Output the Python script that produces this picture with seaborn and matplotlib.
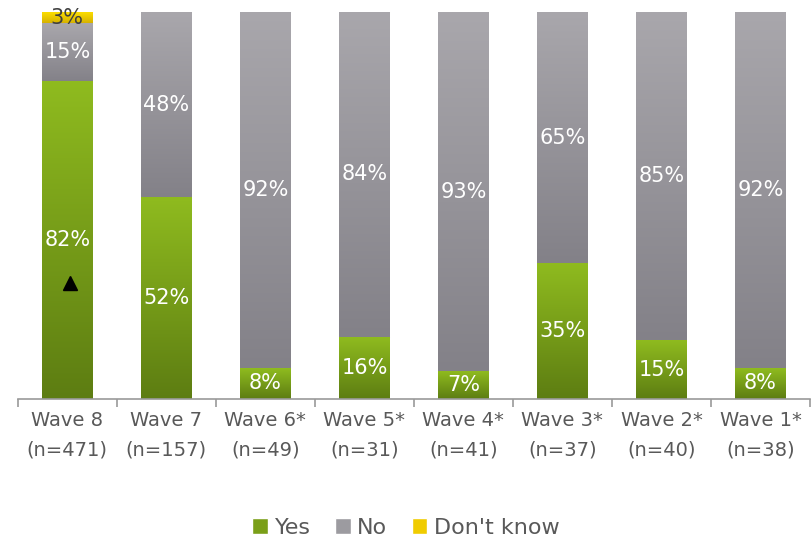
import numpy as np
import pandas as pd
import matplotlib
matplotlib.use("Agg")
import matplotlib.pyplot as plt
import matplotlib.colors as mcolors
from matplotlib.patches import Patch
import seaborn as sns

waves = ["Wave 8", "Wave 7", "Wave 6*", "Wave 5*", "Wave 4*", "Wave 3*", "Wave 2*", "Wave 1*"]
sizes = ["(n=471)", "(n=157)", "(n=49)", "(n=31)", "(n=41)", "(n=37)", "(n=40)", "(n=38)"]
yes = [82, 52, 8, 16, 7, 35, 15, 8]
no = [15, 48, 92, 84, 93, 65, 85, 92]
dont_know = [3, 0, 0, 0, 0, 0, 0, 0]

sns.set_style("white")
plt.rcParams["font.family"] = ["DejaVu Sans"]

df = pd.DataFrame({"wave": waves, "yes": yes, "no": no, "dk": dont_know})
df["cum_yes"] = df["yes"]
df["cum_no"] = df["yes"] + df["no"]
df["cum_dk"] = df["cum_no"] + df["dk"]

fig = plt.figure(figsize=(8.12, 5.39), dpi=100)
ax = fig.add_axes([0.022, 0.26, 0.9755, 0.718])

width = 0.51
layers = [("cum_dk", ("#ffe100", "#d6b200")),
          ("cum_no", ("#a9a7ac", "#838188")),
          ("cum_yes", ("#8fbb1f", "#5d7d12"))]
lower = {"cum_dk": "cum_no", "cum_no": "cum_yes", "cum_yes": None}

for col, (ctop, cbot) in layers:
    n0 = len(ax.patches)
    sns.barplot(data=df, x="wave", y=col, color=ctop, width=width, ax=ax,
                saturation=1, order=waves)
    cmap = mcolors.LinearSegmentedColormap.from_list("g", [cbot, ctop])
    grad = np.linspace(0, 1, 256).reshape(-1, 1)
    for i, p in enumerate(ax.patches[n0:]):
        x0 = p.get_x()
        x1 = x0 + p.get_width()
        ytop = df[col].iloc[i]
        ybot = df[lower[col]].iloc[i] if lower[col] else 0
        if ytop - ybot <= 0:
            continue
        ax.imshow(grad, cmap=cmap, origin="lower", aspect="auto",
                  extent=(x0, x1, ybot, ytop), zorder=p.get_zorder() + 0.1)

ax.set_xlim(-0.5, 7.5)
ax.set_ylim(0, 100)
ax.set_ylabel("")
ax.set_xlabel("")
ax.set_yticks([])

# value labels
fs = 15
for i in range(len(waves)):
    if yes[i] > 0:
        ax.text(i, yes[i] / 2, f"{yes[i]}%", ha="center", va="center",
                color="white", fontsize=fs, zorder=10)
    if no[i] > 0:
        ax.text(i, yes[i] + no[i] / 2, f"{no[i]}%", ha="center", va="center",
                color="white", fontsize=fs, zorder=10)
    if dont_know[i] > 0:
        ax.text(i, yes[i] + no[i] + dont_know[i] / 2, f"{dont_know[i]}%",
                ha="center", va="center", color="#404040", fontsize=fs, zorder=10)

# significance marker
ax.plot([0.03], [30], marker="^", color="black", markersize=10, zorder=11, linestyle="none")

for s in ["top", "right", "left"]:
    ax.spines[s].set_visible(False)
ax.spines["bottom"].set_color("#9a9a9a")
ax.spines["bottom"].set_linewidth(1.2)

ax.set_xticks(range(len(waves)))
ax.set_xticklabels([f"{w}\n{n}" for w, n in zip(waves, sizes)],
                   fontsize=14, color="#595959", linespacing=1.7)
ax.set_xticks(np.arange(-0.5, 8.0, 1.0), minor=True)
ax.tick_params(axis="x", which="major", length=0, pad=9)
ax.tick_params(axis="x", which="minor", length=6, width=1.2, color="#9a9a9a",
               direction="out", bottom=True)

handles = [Patch(facecolor="#7a9f18", label="Yes"),
           Patch(facecolor="#9c9ba0", label="No"),
           Patch(facecolor="#f0cc00", label="Don't know")]
fig.legend(handles=handles, loc="lower center", bbox_to_anchor=(0.5, -0.035),
           ncol=3, frameon=False, fontsize=16, handlelength=0.7, handleheight=0.7,
           handletextpad=0.3, columnspacing=1.1, labelcolor="#595959")

fig.savefig("out.png", dpi=100)
